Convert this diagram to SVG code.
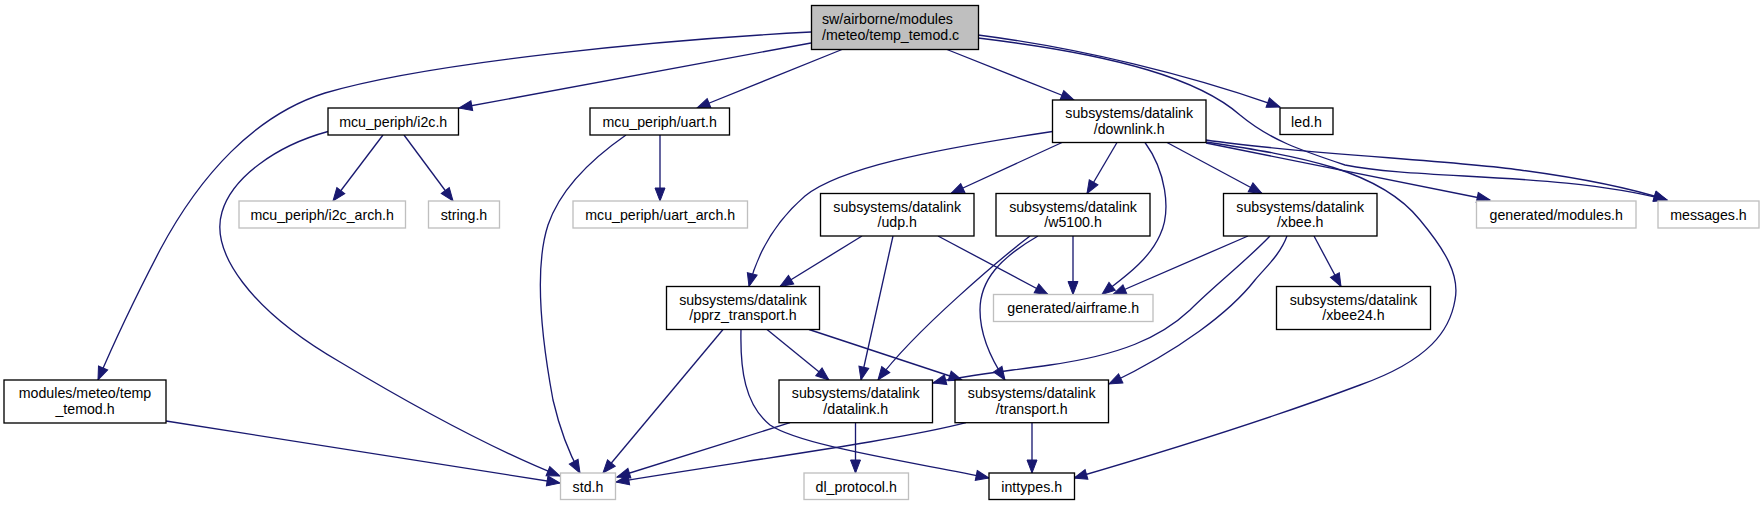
<svg xmlns="http://www.w3.org/2000/svg" width="1763" height="507" viewBox="0 0 1763 507">
<style>
.n rect{fill:#fff;stroke:#000;stroke-width:1.33}
.g rect{fill:#fff;stroke:#bfbfbf;stroke-width:1.33}
.m rect{fill:#bfbfbf;stroke:#000;stroke-width:1.33}
text{font-family:"Liberation Sans",Arial,sans-serif;font-size:14.2px;fill:#000;text-anchor:middle}
.m text{text-anchor:start}
#edges path{fill:none;stroke:#191970;stroke-width:1.33;marker-end:url(#arr)}
</style>
<defs>
<marker id="arr" markerUnits="userSpaceOnUse" markerWidth="15" markerHeight="12" refX="13" refY="5" orient="auto" overflow="visible">
<path d="M0,0 L13,5 L0,10 Z" fill="#191970" stroke="#191970" stroke-width="1"/>
</marker>
</defs>
<rect width="1763" height="507" fill="#fff"/>
<g id="edges">
<path d="M811,32 C660,40 430,62 325,93 C255,115 200,175 160,250 C135,298 115,340 98,380"/>
<path d="M811,43 L459,108"/>
<path d="M842,49.5 L697,108"/>
<path d="M947,49.5 L1074,100"/>
<path d="M978,35 C1080,48 1190,75 1280,107"/>
<path d="M978,38 C1120,55 1200,80 1240,115 C1270,140 1300,150 1345,165 C1420,180 1560,172 1667,200"/>
<path d="M1206,140 C1300,154 1450,160 1520,170 C1580,178 1630,188 1667,200"/>
<path d="M1206,143 L1490,200"/>
<path d="M1206,142 C1300,156 1380,170 1420,220 C1445,250 1460,275 1455,300 C1450,330 1430,360 1360,385 C1280,415 1170,450 1074,478"/>
<path d="M1062,142.5 L951,193.5"/>
<path d="M1052.5,131.5 C930,150 840,168 805,196 C775,222 757,255 749,286.5"/>
<path d="M1117,142.5 L1087,193.5"/>
<path d="M1145,142.5 C1165,170 1172,210 1160,235 C1148,262 1120,280 1102,294.5"/>
<path d="M1167,142.5 L1262,193.5"/>
<path d="M862,236 L780,286.5"/>
<path d="M893,236 L861,380"/>
<path d="M938,236 L1048,294.5"/>
<path d="M1073,236 L1073,294.5"/>
<path d="M1030,236 C1005,255 915,330 878,380"/>
<path d="M1038,236 C1000,258 980,280 980,310 C980,340 995,365 1005,380"/>
<path d="M1314,236 L1341,286.5"/>
<path d="M1248,236 L1113,294.5"/>
<path d="M1270,236 C1245,262 1215,285 1190,310 C1160,338 1120,355 1050,365 C1000,372 960,376 933,383"/>
<path d="M1287,236 C1280,255 1265,268 1255,280 C1230,312 1180,350 1109,384"/>
<path d="M723,329.5 L603,473"/>
<path d="M741,329.5 C740,370 745,405 770,425 C800,445 900,460 989,478"/>
<path d="M767,329.5 L829,380"/>
<path d="M809,329.5 L962,380"/>
<path d="M790,422.7 L617,477"/>
<path d="M855.5,422.7 L855.5,473"/>
<path d="M966,422.7 C900,440 750,460 616,482"/>
<path d="M1032,422.7 L1032,473"/>
<path d="M383,135 L333,201"/>
<path d="M404,135 L453,201"/>
<path d="M328,131.5 C275,146 232,178 222,212 C210,252 250,310 340,362 C420,410 490,448 560,476"/>
<path d="M166,421 L560,483"/>
<path d="M660,135 L660,201"/>
<path d="M626,135 C590,160 560,190 548,225 C535,265 540,330 553,400 C560,430 570,455 580,473"/>
</g>
<g id="n_main" class="m"><rect x="811.5" y="5.5" width="167" height="44"/><text x="822" y="24">sw/airborne/modules</text><text x="822" y="39.5">/meteo/temp_temod.c</text></g>
<g id="n_temp_temod_h" class="n"><rect x="4" y="380" width="162" height="43"/><text x="85" y="398">modules/meteo/temp</text><text x="85" y="413.5">_temod.h</text></g>
<g id="n_i2c" class="n"><rect x="328" y="108" width="130.5" height="27"/><text x="393.2" y="126.5">mcu_periph/i2c.h</text></g>
<g id="n_uart" class="n"><rect x="590" y="108" width="139.5" height="27"/><text x="659.7" y="126.5">mcu_periph/uart.h</text></g>
<g id="n_downlink" class="n"><rect x="1052.5" y="100" width="153.5" height="42.5"/><text x="1129.2" y="118">subsystems/datalink</text><text x="1129.2" y="133.5">/downlink.h</text></g>
<g id="n_led" class="n"><rect x="1280" y="108" width="53" height="26.5"/><text x="1306.5" y="126.5">led.h</text></g>
<g id="n_i2c_arch" class="g"><rect x="239" y="201" width="166.5" height="27"/><text x="322.2" y="219.5">mcu_periph/i2c_arch.h</text></g>
<g id="n_string" class="g"><rect x="428.5" y="201" width="71" height="27"/><text x="464" y="219.5">string.h</text></g>
<g id="n_uart_arch" class="g"><rect x="573" y="201" width="174.5" height="27"/><text x="660.2" y="219.5">mcu_periph/uart_arch.h</text></g>
<g id="n_udp" class="n"><rect x="820.5" y="193.5" width="153.5" height="42.5"/><text x="897.2" y="211.5">subsystems/datalink</text><text x="897.2" y="227">/udp.h</text></g>
<g id="n_w5100" class="n"><rect x="996" y="193.5" width="154" height="42.5"/><text x="1073" y="211.5">subsystems/datalink</text><text x="1073" y="227">/w5100.h</text></g>
<g id="n_xbee" class="n"><rect x="1223.5" y="193.5" width="153.5" height="42.5"/><text x="1300.2" y="211.5">subsystems/datalink</text><text x="1300.2" y="227">/xbee.h</text></g>
<g id="n_modules" class="g"><rect x="1476.5" y="201" width="159.5" height="27"/><text x="1556.2" y="219.5">generated/modules.h</text></g>
<g id="n_messages" class="g"><rect x="1658" y="201" width="101" height="27"/><text x="1708.5" y="219.5">messages.h</text></g>
<g id="n_pprz" class="n"><rect x="666.5" y="286.5" width="153" height="43"/><text x="743" y="304.5">subsystems/datalink</text><text x="743" y="320">/pprz_transport.h</text></g>
<g id="n_airframe" class="g"><rect x="993.5" y="294.5" width="159.5" height="27"/><text x="1073.2" y="313">generated/airframe.h</text></g>
<g id="n_xbee24" class="n"><rect x="1276.5" y="286.5" width="154" height="43"/><text x="1353.5" y="304.5">subsystems/datalink</text><text x="1353.5" y="320">/xbee24.h</text></g>
<g id="n_datalink" class="n"><rect x="779" y="380" width="153.5" height="42.7"/><text x="855.7" y="398">subsystems/datalink</text><text x="855.7" y="413.5">/datalink.h</text></g>
<g id="n_transport" class="n"><rect x="955" y="380" width="153.5" height="42.7"/><text x="1031.7" y="398">subsystems/datalink</text><text x="1031.7" y="413.5">/transport.h</text></g>
<g id="n_std" class="g"><rect x="560.5" y="473" width="55" height="26.5"/><text x="588" y="491.5">std.h</text></g>
<g id="n_dl_protocol" class="g"><rect x="804" y="473" width="104.5" height="26.5"/><text x="856.2" y="491.5">dl_protocol.h</text></g>
<g id="n_inttypes" class="n"><rect x="989" y="473" width="85.5" height="26.5"/><text x="1031.7" y="491.5">inttypes.h</text></g>
</svg>
